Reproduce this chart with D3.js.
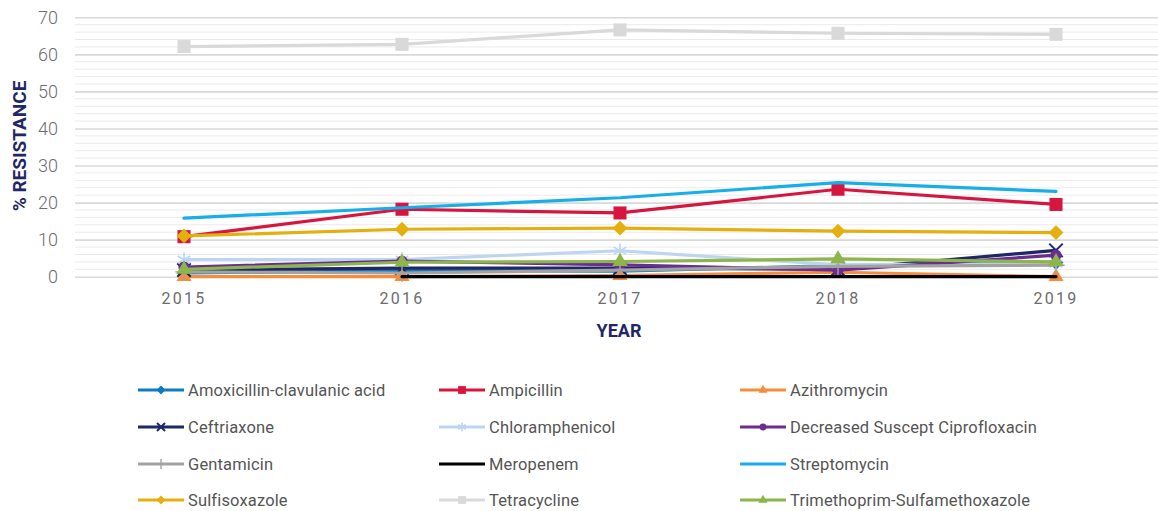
<!DOCTYPE html>
<html>
<head>
<meta charset="utf-8">
<script src="https://cdn.jsdelivr.net/npm/d3@7"></script>
<style>
  html, body { margin: 0; padding: 0; background: #fff; }
  svg { display: block; font-family: Roboto, "DejaVu Sans", sans-serif; }
</style>
</head>
<body>
<svg id="chart" width="1158" height="511"></svg>
<script>
// Resistance (%) per antimicrobial, by year
const years = ["2015", "2016", "2017", "2018", "2019"];
const yTicks = [0, 10, 20, 30, 40, 50, 60, 70];

const amoxicillin     = [1.0, 1.6, 1.5, 3.0, 3.8];
const ampicillin      = [10.8, 18.2, 17.2, 23.6, 19.5];
const azithromycin    = [0.0, 0.0, 0.3, 1.2, 0.0];
const ceftriaxone     = [1.8, 2.3, 2.3, 2.0, 7.1];
const chloramphenicol = [4.6, 4.6, 7.0, 3.2, 3.5];
const ciprofloxacin   = [2.6, 4.2, 3.2, 1.8, 5.8];
const gentamicin      = [1.3, 1.0, 1.8, 2.8, 3.1];
const meropenem       = [null, 0.0, 0.0, 0.0, 0.0];
const streptomycin    = [15.8, 18.6, 21.3, 25.4, 23.0];
const sulfisoxazole   = [11.0, 12.8, 13.1, 12.3, 11.9];
const tetracycline    = [62.1, 62.7, 66.6, 65.7, 65.4];
const trimethoprim    = [2.0, 3.9, 4.1, 4.8, 4.0];

const series = [
  { name: "Amoxicillin-clavulanic acid", values: amoxicillin, color: "#0b7cc1", marker: "diamond" },
  { name: "Ampicillin", values: ampicillin, color: "#d7163f", marker: "square" },
  { name: "Azithromycin", values: azithromycin, color: "#f48d3c", marker: "triangle" },
  { name: "Ceftriaxone", values: ceftriaxone, color: "#1f2767", marker: "x" },
  { name: "Chloramphenicol", values: chloramphenicol, color: "#bdd5f0", marker: "asterisk" },
  { name: "Decreased Suscept Ciprofloxacin", values: ciprofloxacin, color: "#6b2d92", marker: "circle" },
  { name: "Gentamicin", values: gentamicin, color: "#a2a2a2", marker: "plus" },
  { name: "Meropenem", values: meropenem, color: "#000000", marker: "none" },
  { name: "Streptomycin", values: streptomycin, color: "#18aeea", marker: "none" },
  { name: "Sulfisoxazole", values: sulfisoxazole, color: "#e4b00e", marker: "diamond" },
  { name: "Tetracycline", values: tetracycline, color: "#d9d9d9", marker: "square" },
  { name: "Trimethoprim-Sulfamethoxazole", values: trimethoprim, color: "#8cb54a", marker: "triangle" }
];

const svg = d3.select("#chart");
const plot = { left: 75, right: 1165, top: 17.3, bottom: 276.7 };

const x = d3.scaleBand().domain(years).range([plot.left, plot.right]).padding(0);
const cx = d => x(d) + x.bandwidth() / 2;
const y = d3.scaleLinear().domain([0, 70]).range([plot.bottom, plot.top]);

// minor gridlines every 2 units
const minor = d3.range(0, 71, 2).filter(v => v % 10 !== 0);
svg.append("g").selectAll("line").data(minor).join("line")
  .attr("x1", plot.left).attr("x2", 1158)
  .attr("y1", d => y(d)).attr("y2", d => y(d))
  .attr("stroke", "#eaeaea").attr("stroke-width", 1);

// y axis with major gridlines
const yAxis = d3.axisLeft(y).tickValues(yTicks).tickSize(-(1158 - plot.left)).tickPadding(17);
const gy = svg.append("g").attr("transform", `translate(${plot.left},0)`).call(yAxis);
gy.select(".domain").remove();
gy.selectAll(".tick line").attr("stroke", "#d9d9d9").attr("stroke-width", 1.6);
gy.selectAll(".tick text").attr("fill", "#6d6d6d").attr("font-size", 18)
  .attr("font-family", "Roboto, sans-serif").attr("font-weight", 300);

// x axis labels
const xAxis = d3.axisBottom(x).tickSize(0).tickPadding(16);
const gx = svg.append("g").attr("transform", `translate(0,${plot.bottom})`).call(xAxis);
gx.select(".domain").remove();
gx.selectAll(".tick text").attr("fill", "#6d6d6d").attr("font-size", 16)
  .attr("letter-spacing", "2.2px").attr("font-family", "Roboto, sans-serif");

// axis titles
svg.append("text")
  .attr("transform", `translate(26,146) rotate(-90)`)
  .attr("text-anchor", "middle")
  .attr("fill", "#1f2767").attr("font-weight", 700).attr("font-size", 19)
  .text("% RESISTANCE");
svg.append("text")
  .attr("x", 619).attr("y", 337)
  .attr("text-anchor", "middle")
  .attr("fill", "#1f2767").attr("font-weight", 700).attr("font-size", 18)
  .text("YEAR");

// marker drawing helper
function drawMarker(g, type, color, scale) {
  const s = scale;
  if (type === "none") return;
  if (type === "square") {
    g.append("path").attr("d", d3.symbol(d3.symbolSquare, 170 * s * s)()).attr("fill", color);
  } else if (type === "diamond") {
    g.append("path").attr("d", d3.symbol(d3.symbolSquare, 110 * s * s)())
      .attr("transform", "rotate(45)").attr("fill", color);
  } else if (type === "triangle") {
    g.append("path").attr("d", d3.symbol(d3.symbolTriangle, 100 * s * s)()).attr("fill", color);
  } else if (type === "circle") {
    g.append("path").attr("d", d3.symbol(d3.symbolCircle, 100 * s * s)()).attr("fill", color);
  } else if (type === "x") {
    g.append("path").attr("d", d3.symbol(d3.symbolX, 120 * s * s)())
      .attr("fill", "none").attr("stroke", color).attr("stroke-width", 2);
  } else if (type === "asterisk") {
    g.append("path").attr("d", d3.symbol(d3.symbolAsterisk, 150 * s * s)())
      .attr("fill", "none").attr("stroke", color).attr("stroke-width", 1.6);
  } else if (type === "plus") {
    g.append("path").attr("d", d3.symbol(d3.symbolPlus, 100 * s * s)())
      .attr("fill", "none").attr("stroke", color).attr("stroke-width", 1.4);
  }
}

// series lines and markers
const line = d3.line()
  .defined(d => d.v !== null)
  .x(d => cx(d.year))
  .y(d => y(d.v));

const lines = svg.append("g");
series.forEach(s => {
  const pts = years.map((yr, i) => ({ year: yr, v: s.values[i] }));
  const g = lines.append("g");
  g.append("path").datum(pts)
    .attr("d", line)
    .attr("fill", "none")
    .attr("stroke", s.color)
    .attr("stroke-width", 3.2)
    .attr("stroke-linejoin", "round")
    .attr("stroke-linecap", "round");
  pts.filter(p => p.v !== null).forEach(p => {
    const mg = g.append("g").attr("transform", `translate(${cx(p.year)},${y(p.v)})`);
    drawMarker(mg, s.marker, s.color, 1);
  });
});

// legend: three columns, four rows
const legendCols = [138, 439, 740];
const legendRows = [390, 427, 464, 500];
const legend = svg.append("g");
series.forEach((s, i) => {
  const col = i % 3, row = Math.floor(i / 3);
  const lx = legendCols[col], ly = legendRows[row];
  const g = legend.append("g").attr("transform", `translate(${lx},${ly})`);
  g.append("line").attr("x1", 0).attr("x2", 46).attr("y1", 0).attr("y2", 0)
    .attr("stroke", s.color).attr("stroke-width", 3);
  const mg = g.append("g").attr("transform", "translate(23,0)");
  drawMarker(mg, s.marker, s.color, 0.6);
  g.append("text").attr("x", 50).attr("y", 0).attr("dy", "0.35em")
    .attr("fill", "#555").attr("font-size", 16.5).attr("letter-spacing", "0.15px")
    .text(s.name);
});
</script>
</body>
</html>
